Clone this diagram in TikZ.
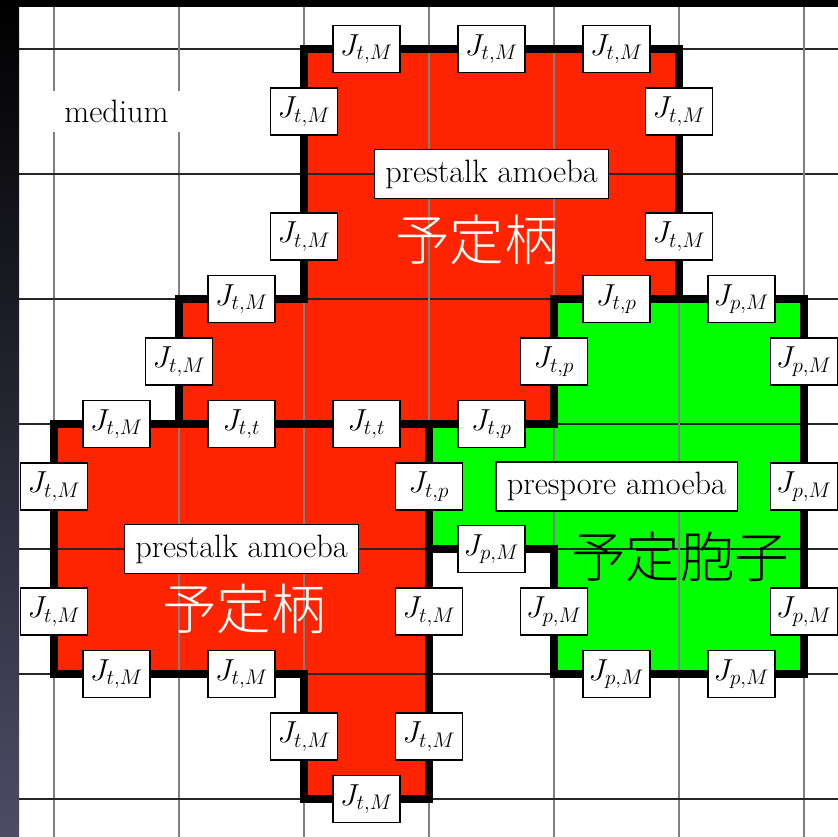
\documentclass[tikz,border=0pt]{standalone}
\usepackage{fontspec}
\newfontfamily\cjk[UprightFont={* Light}]{Noto Sans CJK JP}
\usetikzlibrary{positioning}
\definecolor{stalkred}{RGB}{255,36,0}
\definecolor{sporegreen}{RGB}{0,255,0}
\definecolor{slate}{RGB}{76,76,102}
\tikzset{
  jbox/.style     = {draw = black, fill = white, line width = 0.7pt,
                     minimum width = 1.34cm, minimum height = 0.94cm,
                     inner sep = 0pt, font = \fontsize{17.5}{20}\selectfont},
  namebox/.style  = {draw = black, fill = white, line width = 0.7pt,
                     inner xsep = 0.22cm, inner ysep = 0pt,
                     minimum height = 0.98cm, font = \fontsize{18.4}{21}\selectfont},
  kanji/.style    = {inner sep = 0pt, font = \cjk\fontsize{31}{34}\selectfont},
  wall/.style     = {line width = 4pt, line join = miter, line cap = rect},
  hline/.style    = {line width = 1.1pt, black!85},
  vline/.style    = {line width = 1.1pt, black!50}
}

\begin{document}
\begin{tikzpicture}[x=2.5cm, y=-2.5cm]
\useasboundingbox (-0.432,-0.392) rectangle (6.272,6.304);
\fill[white] (-0.432,-0.392) rectangle (6.272,6.304);

% dark frame of the screen
\shade[top color=black, bottom color=slate] (-0.432,-0.392) rectangle (-0.28,6.304);
\fill[black] (-0.432,-0.392) rectangle (6.272,-0.336);

% cells
\fill[stalkred] (2,0) -- (5,0) -- (5,2) -- (4,2) -- (4,3) -- (1,3) -- (1,2) -- (2,2) -- cycle;
\fill[stalkred] (0,3) -- (3,3) -- (3,6) -- (2,6) -- (2,5) -- (0,5) -- cycle;
\fill[sporegreen] (4,2) -- (6,2) -- (6,5) -- (4,5) -- (4,4) -- (3,4) -- (3,3) -- (4,3) -- cycle;

% lattice
\foreach \i in {0,...,6} {
    \draw[vline] (\i,-0.336) -- (\i,6.304);
    \draw[hline] (-0.28,\i) -- (6.272,\i);
}

% membranes
\draw[wall] (2,0) -- (5,0) -- (5,2) -- (4,2) -- (4,3) -- (1,3) -- (1,2) -- (2,2) -- cycle;
\draw[wall] (0,3) -- (3,3) -- (3,6) -- (2,6) -- (2,5) -- (0,5) -- cycle;
\draw[wall] (4,2) -- (6,2) -- (6,5) -- (4,5) -- (4,4) -- (3,4) -- (3,3) -- (4,3) -- cycle;

% contact energies
\foreach \x/\y [count=\k] in {2.5/0, 3.5/0, 4.5/0, 2/0.5, 2/1.5, 5/0.5, 5/1.5,
    1.5/2, 1/2.5, 0.5/3, 0/3.5, 0/4.5, 0.5/5, 1.5/5, 3/4.5, 2/5.5, 3/5.5, 2.5/6} {
    \node[jbox] (tM\k) at (\x,\y) {$J_{t,M}$};
}
\foreach \x/\y [count=\k] in {4.5/2, 4/2.5, 3.5/3, 3/3.5} {
    \node[jbox] (tp\k) at (\x,\y) {$J_{t,p}$};
}
\foreach \x/\y [count=\k] in {1.5/3, 2.5/3} {
    \node[jbox] (tt\k) at (\x,\y) {$J_{t,t}$};
}
\foreach \x/\y [count=\k] in {5.5/2, 6/2.5, 6/3.5, 6/4.5, 3.5/4, 4/4.5, 4.5/5, 5.5/5} {
    \node[jbox] (pM\k) at (\x,\y) {$J_{p,M}$};
}

% cell names
\node[namebox, draw=none, minimum width=2.6cm, minimum height=0.82cm] (medium) at (0.5,0.5) {medium};
\node[namebox] (stalkA) at (3.5,1) {prestalk amoeba};
\node[namebox] (stalkB) at (1.5,4) {prestalk amoeba};
\node[namebox] (spore) at (4.5,3.5) {prespore amoeba};
\node[kanji, text=white] (stalkAjp) at (3.384,1.528) {予定柄};
\node[kanji, text=white] (stalkBjp) at (1.52,4.48) {予定柄};
\node[kanji, text=black] (sporejp) at (5.008,4.064) {予定胞子};
\end{tikzpicture}
\end{document}
